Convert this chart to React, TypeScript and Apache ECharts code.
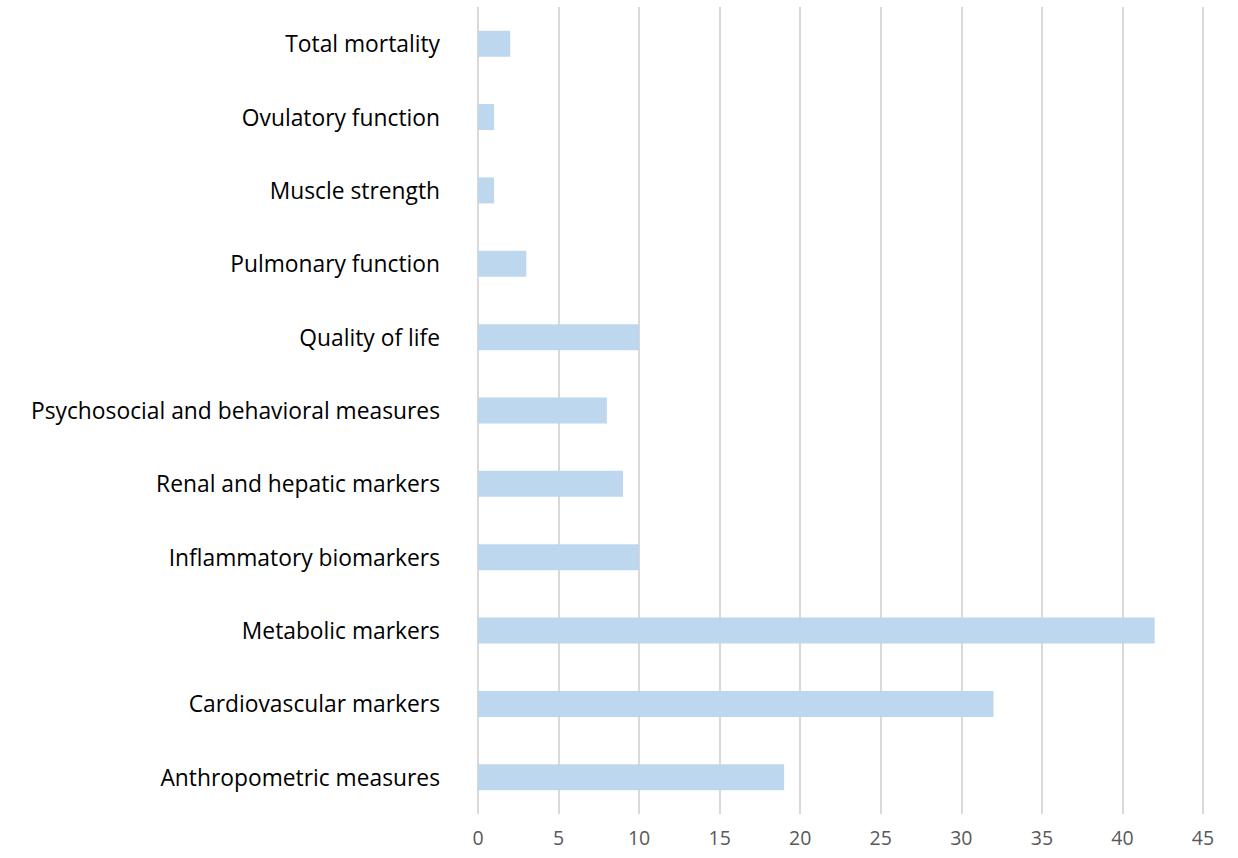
import React, { useEffect, useRef } from "react";
import * as echarts from "echarts";

// Outcome categories, listed bottom to top as drawn on the category axis
const categories = [
  "Anthropometric measures",
  "Cardiovascular markers",
  "Metabolic markers",
  "Inflammatory biomarkers",
  "Renal and hepatic markers",
  "Psychosocial and behavioral measures",
  "Quality of life",
  "Pulmonary function",
  "Muscle strength",
  "Ovulatory function",
  "Total mortality",
];

// Number of studies reporting each outcome
const counts = [19, 32, 42, 10, 9, 8, 10, 3, 1, 1, 2];

// Value axis range
const axisMin = 0;
const axisMax = 45;
const axisStep = 5;

const FONT = "'Open Sans', Lato, sans-serif";

export default function App() {
  const ref = useRef<HTMLDivElement>(null);

  useEffect(() => {
    if (!ref.current) return;
    const chart = echarts.init(ref.current, null, { renderer: "svg" });
    chart.setOption({
      animation: false,
      backgroundColor: "#ffffff",
      grid: { left: 478, right: 35, top: 7, bottom: 44, containLabel: false },
      xAxis: {
        type: "value",
        min: axisMin,
        max: axisMax,
        interval: axisStep,
        axisLine: { show: false },
        axisTick: { show: false },
        axisLabel: {
          color: "#595959",
          fontSize: 19.5,
          fontFamily: FONT,
          margin: 13,
        },
        splitLine: { show: true, lineStyle: { color: "#d9d9d9", width: 2 } },
      },
      yAxis: {
        type: "category",
        data: categories,
        axisLine: { show: false },
        axisTick: { show: false },
        axisLabel: {
          color: "#000000",
          fontSize: 22.8,
          fontFamily: FONT,
          margin: 38,
        },
        splitLine: { show: false },
      },
      series: [
        {
          type: "bar",
          data: counts,
          barWidth: 26,
          itemStyle: { color: "#bdd7ee" },
        },
      ],
    });
    return () => chart.dispose();
  }, []);

  return (
    <div
      ref={ref}
      style={{ position: "fixed", left: 0, top: 0, width: 1238, height: 858 }}
    />
  );
}
